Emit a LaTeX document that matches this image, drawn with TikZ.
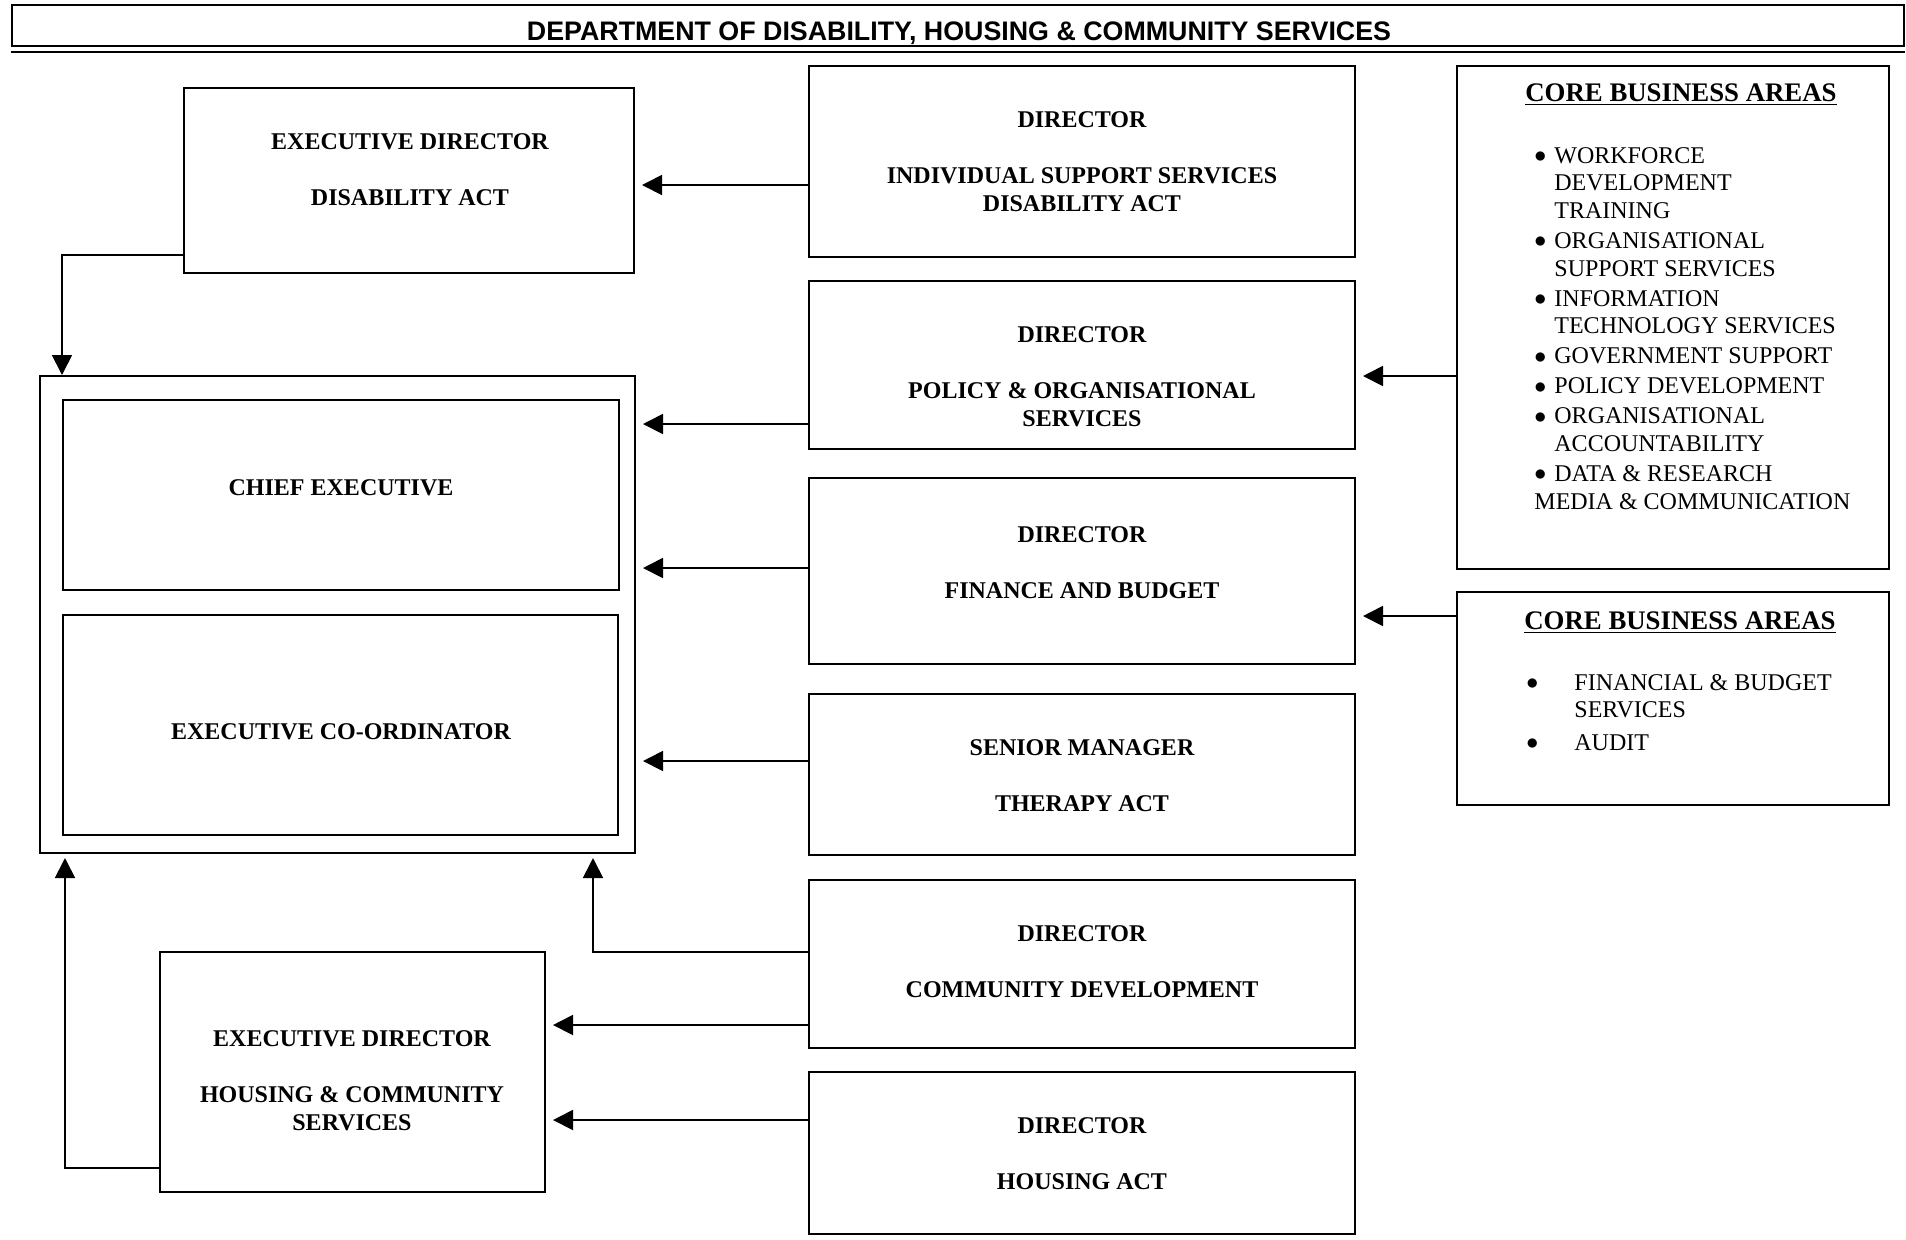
\documentclass[tikz,border=0pt]{standalone}
\usepackage{fontspec}
\setmainfont{Liberation Serif}
\newfontfamily\headfont{Liberation Sans}
\usepackage{tikz}
\usetikzlibrary{arrows.meta,fit}
\newcommand{\cbabullet}[1]{\makebox[#1][l]{\raisebox{0.4pt}{$\bullet$}}}

\begin{document}
\begin{tikzpicture}[x=0.5pt,y=-0.5pt,
  box/.style={draw,line width=1pt,inner sep=0pt},
  inbox/.style={draw,line width=1.4pt,inner sep=0pt},
  lbl/.style={align=center,inner sep=0pt,font=\fontsize{12}{14}\selectfont\bfseries},
  arr/.style={-{Triangle[length=10pt,width=10pt]},line width=0.9pt}]
  \useasboundingbox (0,0) rectangle (1906,1239);

  % title bar
  \node[box,line width=1.1pt,fit={(12,5) (1904,46)}] (hdr) {};
  \draw[line width=1.1pt] ([yshift=-2.5pt]hdr.south west) -- ++(1894,0);
  \node[anchor=base,inner sep=0pt,font=\headfont\fontsize{13.4}{16}\selectfont\bfseries] (hdrT) at (959,40)
    {DEPARTMENT OF DISABILITY, HOUSING \& COMMUNITY SERVICES};

  % left column
  \node[box,fit={(184,88) (634,273)}] (edDis) {};
  \node[lbl] (edDisT) at (410,170) {EXECUTIVE DIRECTOR\\[14pt]DISABILITY ACT};
  \node[box,fit={(40,376) (635,853)}] (outer) {};
  \node[inbox,fit={(63,400) (619,590)}] (ce) {};
  \node[lbl] (ceT) at (341,488) {CHIEF EXECUTIVE};
  \node[inbox,fit={(63,615) (618,835)}] (eco) {};
  \node[lbl] (ecoT) at (341,732) {EXECUTIVE CO-ORDINATOR};
  \node[box,fit={(160,952) (545,1192)}] (edHou) {};
  \node[lbl] (edHouT) at (352,1081) {EXECUTIVE DIRECTOR\\[14pt]HOUSING \& COMMUNITY\\SERVICES};

  % directors
  \node[box,fit={(809,66) (1355,257)}] (iss) {};
  \node[lbl] (issT) at (1082,162) {DIRECTOR\\[14pt]INDIVIDUAL SUPPORT SERVICES\\DISABILITY ACT};
  \node[box,fit={(809,281) (1355,449)}] (pol) {};
  \node[lbl] (polT) at (1082,377) {DIRECTOR\\[14pt]POLICY \& ORGANISATIONAL\\SERVICES};
  \node[box,fit={(809,478) (1355,664)}] (fin) {};
  \node[lbl] (finT) at (1082,563) {DIRECTOR\\[14pt]FINANCE AND BUDGET};
  \node[box,fit={(809,694) (1355,855)}] (ther) {};
  \node[lbl] (therT) at (1082,776) {SENIOR MANAGER\\[14pt]THERAPY ACT};
  \node[box,fit={(809,880) (1355,1048)}] (com) {};
  \node[lbl] (comT) at (1082,962) {DIRECTOR\\[14pt]COMMUNITY DEVELOPMENT};
  \node[box,fit={(809,1072) (1355,1234)}] (hou) {};
  \node[lbl] (houT) at (1082,1154) {DIRECTOR\\[14pt]HOUSING ACT};

  % core business areas
  \node[box,fit={(1457,66) (1889,569)}] (cba1) {};
  \node[anchor=base,inner sep=0pt,font=\fontsize{13.4}{16}\selectfont\bfseries] (cba1T) at (1681,101)
    {\underline{CORE BUSINESS AREAS}};
  \node[anchor=base west,inner sep=0pt,font=\fontsize{12}{13.85}\selectfont] (cba1L) at (1534,163)
    {\begin{tabular}[t]{@{}l@{}l@{}}
      \cbabullet{10pt} & WORKFORCE\\ & DEVELOPMENT\\ & TRAINING\\[1.15pt]
      \cbabullet{10pt} & ORGANISATIONAL\\ & SUPPORT SERVICES\\[1.15pt]
      \cbabullet{10pt} & INFORMATION\\ & TECHNOLOGY SERVICES\\[1.15pt]
      \cbabullet{10pt} & GOVERNMENT SUPPORT\\[1.15pt]
      \cbabullet{10pt} & POLICY DEVELOPMENT\\[1.15pt]
      \cbabullet{10pt} & ORGANISATIONAL\\ & ACCOUNTABILITY\\[1.15pt]
      \cbabullet{10pt} & DATA \& RESEARCH\\
      \multicolumn{2}{@{}l@{}}{MEDIA \& COMMUNICATION}
    \end{tabular}};
  \node[box,fit={(1457,592) (1889,805)}] (cba2) {};
  \node[anchor=base,inner sep=0pt,font=\fontsize{13.4}{16}\selectfont\bfseries] (cba2T) at (1680,629)
    {\underline{CORE BUSINESS AREAS}};
  \node[anchor=base west,inner sep=0pt,font=\fontsize{12}{13.85}\selectfont] (cba2L) at (1526,690)
    {\begin{tabular}[t]{@{}l@{}l@{}}
      \cbabullet{24pt} & FINANCIAL \& BUDGET\\ & SERVICES\\[2.4pt]
      \cbabullet{24pt} & AUDIT
    \end{tabular}};

  % reporting lines
  \draw[arr,shorten >=3.5pt] (iss.west |- 0,185) -- (edDis.east |- 0,185);
  \draw[arr,shorten >=3.5pt] (pol.west |- 0,424) -- (outer.east |- 0,424);
  \draw[arr,shorten >=3.5pt] (fin.west |- 0,568) -- (outer.east |- 0,568);
  \draw[arr,shorten >=3.5pt] (ther.west |- 0,761) -- (outer.east |- 0,761);
  \draw[arr,shorten >=2pt] (com.west |- 0,952) -| (outer.south -| 593,0);
  \draw[arr,shorten >=3.5pt] (com.west |- 0,1025) -- (edHou.east |- 0,1025);
  \draw[arr,shorten >=3.5pt] (hou.west |- 0,1120) -- (edHou.east |- 0,1120);
  \draw[arr,shorten >=2pt] (edHou.west |- 0,1168) -| (outer.south -| 65,0);
  \draw[arr] (edDis.west |- 0,255) -| (outer.north -| 62,0);
  \draw[arr,shorten >=3.5pt] (cba1.west |- 0,376) -- (pol.east |- 0,376);
  \draw[arr,shorten >=3.5pt] (cba2.west |- 0,616) -- (fin.east |- 0,616);
\end{tikzpicture}
\end{document}
